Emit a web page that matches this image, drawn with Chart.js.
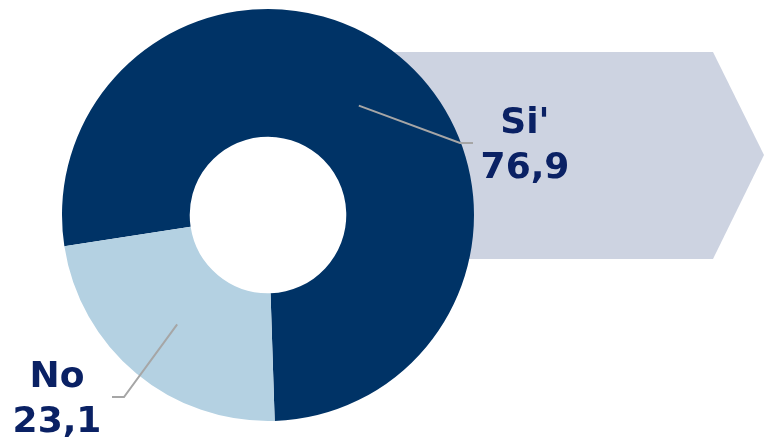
<!DOCTYPE html>
<html>
<head>
<meta charset="utf-8">
<script src="https://cdn.jsdelivr.net/npm/chart.js@4/dist/chart.umd.min.js"></script>
<style>
  html, body { margin: 0; padding: 0; background: #fff; }
  #wrap { position: relative; width: 764px; height: 439px; overflow: hidden; }
  /* freccia di sfondo */
  #arrow {
    position: absolute; left: 0; top: 0; width: 764px; height: 439px;
    background: #cdd3e1;
    clip-path: polygon(360px 52px, 713px 52px, 764px 155px, 713px 259px, 360px 259px);
  }
  #myChart { position: absolute; left: 0; top: 0; }
</style>
</head>
<body>
<div id="wrap">
  <div id="arrow"></div>
  <canvas id="myChart" width="764" height="439"></canvas>
</div>
<script>
var categories = ["Si'", "No"];
var values = [76.9, 23.1];
var valueLabels = ["76,9", "23,1"];
var sliceColors = ["#003366", "#b4d1e2"];

// posizione delle etichette rispetto al centro della torta
var labelPos = [
    { elbow: [192, -72], end: [205, -72], text: [257, -91] },
    { elbow: [-144, 182], end: [-156, 182], text: [-211, 163] }
];

var labelPlugin = {
    id: 'leaderLabels',
    afterDatasetsDraw: function(chart) {
        var ctx = chart.ctx;
        var meta = chart.getDatasetMeta(0);
        meta.data.forEach(function(arc, i) {
            var cx = arc.x, cy = arc.y;
            var p = arc.tooltipPosition();
            var pos = labelPos[i];
            ctx.save();
            ctx.strokeStyle = '#a6a6a6';
            ctx.lineWidth = 2;
            ctx.beginPath();
            ctx.moveTo(p.x, p.y);
            ctx.lineTo(cx + pos.elbow[0], cy + pos.elbow[1]);
            ctx.lineTo(cx + pos.end[0], cy + pos.end[1]);
            ctx.stroke();

            ctx.fillStyle = '#0a2164';
            ctx.font = 'bold 36px "DejaVu Sans", Verdana, sans-serif';
            ctx.textAlign = 'center';
            ctx.textBaseline = 'middle';
            var tx = cx + pos.text[0], ty = cy + pos.text[1];
            ctx.fillText(categories[i], tx, ty);
            ctx.fillText(valueLabels[i], tx, ty + 45);
            ctx.restore();
        });
    }
};

var ctx = document.getElementById("myChart").getContext("2d");
var myChart = new Chart(ctx, {
    type: 'doughnut',
    data: {
        labels: categories,
        datasets: [{
            data: values,
            backgroundColor: sliceColors,
            borderWidth: 0
        }]
    },
    options: {
        responsive: false,
        animation: false,
        cutout: '38%',
        rotation: 261.3,
        layout: { padding: { left: 62, right: 290, top: 9, bottom: 18 } },
        plugins: {
            legend: { display: false },
            tooltip: { enabled: false }
        }
    },
    plugins: [labelPlugin]
});
</script>
</body>
</html>
